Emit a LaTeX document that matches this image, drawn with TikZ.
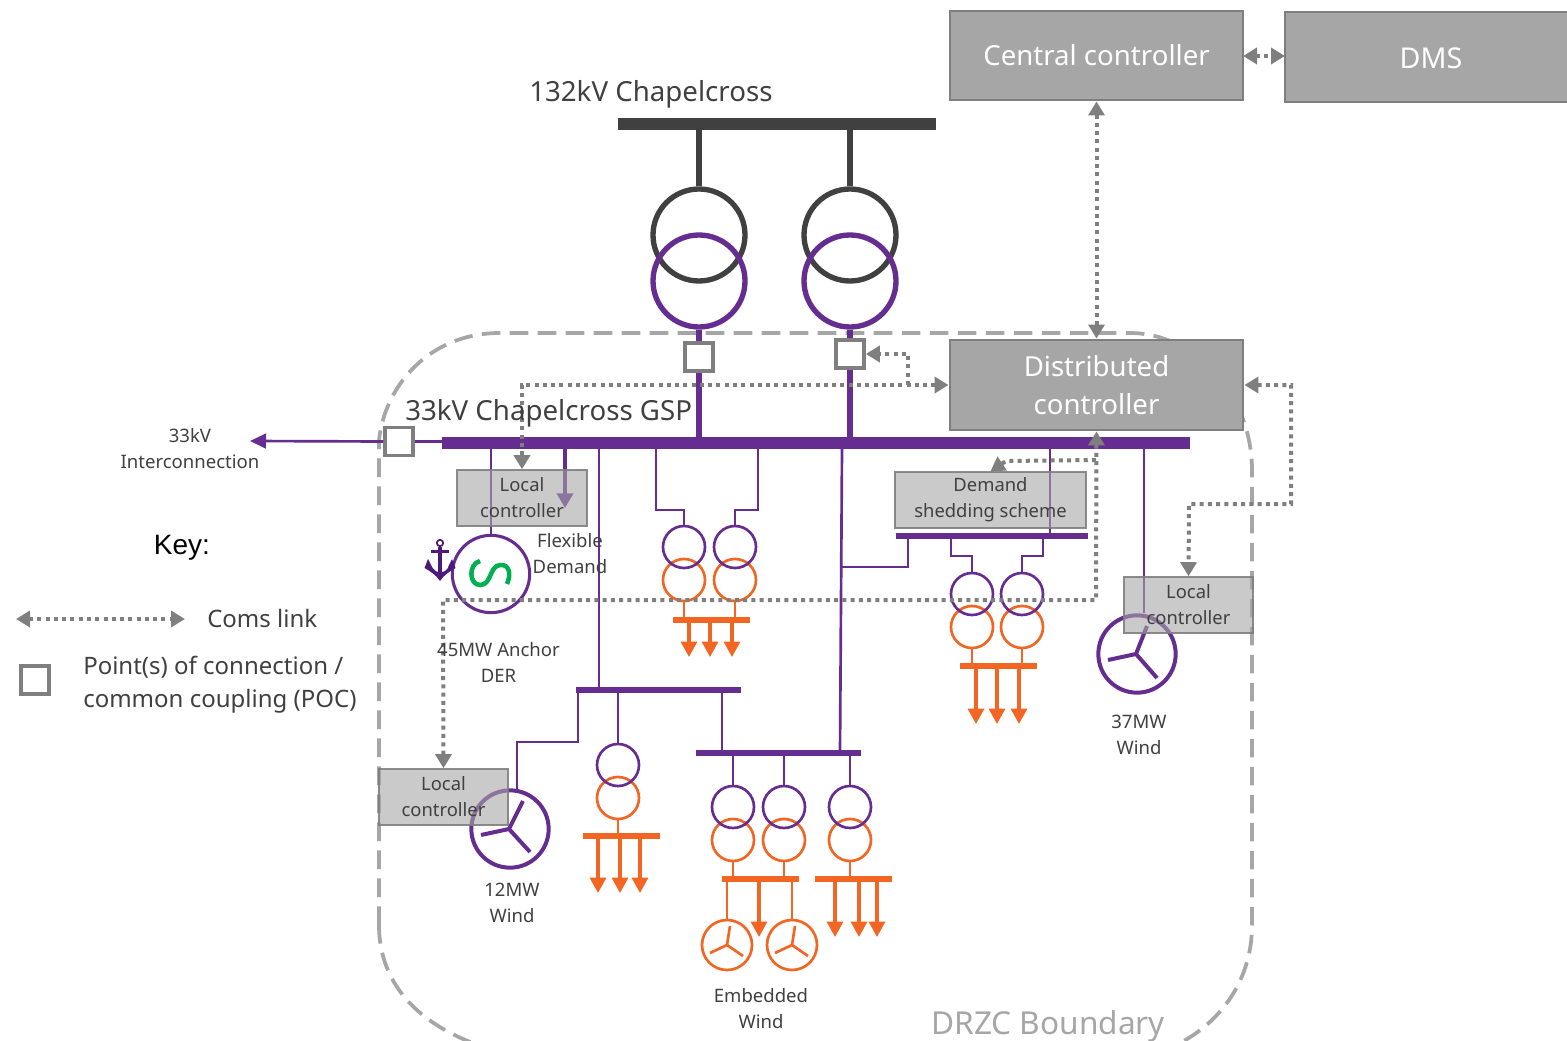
\documentclass[tikz,border=0pt]{standalone}
\usepackage{fontspec}
\setmainfont{Noto Sans}
\newfontfamily\keyfont{Liberation Sans}
\usetikzlibrary{arrows.meta}
\definecolor{pur}{HTML}{662D91}
\definecolor{org}{HTML}{F26522}
\definecolor{drk}{HTML}{404040}
\definecolor{gry}{HTML}{7F7F7F}
\definecolor{ctl}{HTML}{A6A6A6}
\definecolor{txt}{HTML}{404040}
\definecolor{grn}{HTML}{00B050}
\definecolor{anc}{HTML}{4B1A7A}
\tikzset{
  x=0.75pt,y=-0.75pt,
  pl/.style={draw=pur,line width=2pt},
  plthick/.style={draw=pur,line width=4pt},
  ol/.style={draw=org,line width=1.3pt},
  plarrow/.style={draw=pur,line width=3pt,-{Triangle[length=11pt,width=12pt]}},
  oarrow/.style={draw=org,line width=2.3pt,-{Triangle[length=11.5pt,width=12pt]}},
  com/.style={draw=gry,line width=3pt,dash pattern=on 3pt off 3.2pt},
  comarrow/.style={com,-{Triangle[length=10.5pt,width=12pt]}},
  comboth/.style={com,{Triangle[length=10.5pt,width=12pt]}-{Triangle[length=10.5pt,width=12pt]}},
  xc/.style={circle,draw,inner sep=0pt,minimum size=31.5pt,line width=2pt},
  bigx/.style={circle,draw,inner sep=0pt,minimum size=69pt,line width=4pt},
  windp/.style={circle,draw=pur,inner sep=0pt,minimum size=58pt,line width=3pt},
  windo/.style={circle,draw=org,inner sep=0pt,minimum size=37.5pt,line width=2pt},
  blp/.style={draw=pur,line width=3pt},
  blo/.style={draw=org,line width=2pt},
  poc/.style={rectangle,draw=gry,fill=white,line width=2.7pt,inner sep=0pt,minimum size=21pt},
  ctlbox/.style={rectangle,draw=gry,fill=ctl,line width=2.2pt,inner sep=0pt,text=white,font=\fontsize{20.7}{28.5}\selectfont,align=center},
  locbox/.style={rectangle,draw=gry,fill=ctl,fill opacity=.6,draw opacity=.9,text opacity=1,line width=1.2pt,inner sep=0pt,text=txt,font=\fontsize{13.8}{19.5}\selectfont,align=center},
  lab/.style={text=txt,font=\fontsize{13.9}{19.5}\selectfont,align=center,inner sep=0pt},
  biglab/.style={text=txt,font=\fontsize{20.75}{26}\selectfont,anchor=west,inner sep=0pt},
  keylab/.style={text=txt,font=\fontsize{18}{24.5}\selectfont,anchor=west,inner sep=0pt,align=left},
}
\newcommand{\hbus}[6]{\node[rectangle,fill=#2,inner sep=0pt,minimum width={(#4-#3)*0.75pt},minimum height={#6*0.75pt}] (#1) at ({(#3+#4)/2},#5) {};}
\newcommand{\boxnode}[7]{\node[#2,minimum width={(#5-#3)*0.75pt},minimum height={(#6-#4)*0.75pt}] (#1) at ({(#3+#5)/2},{(#4+#6)/2}) {#7};}
\newcommand{\xfmr}[3]{%
  \node[xc,draw=org] (#1O) at ({#2},{#3+33}) {};
  \node[xc,draw=pur] (#1P) at ({#2},{#3}) {};}
\begin{document}
\begin{tikzpicture}
\useasboundingbox (0,0) rectangle (1567,1041);
\begin{scope}
\clip (0,0) rectangle (1567,1041);
% boundary
\draw[draw=ctl,line width=2.8pt,dash pattern=on 14pt off 7pt]
  (379,925) -- (379,440) .. controls (385,385) and (430,333) .. (500,333) -- (1130,333) .. controls (1195,333) and (1252,395) .. (1252,470)
  -- (1252,925) .. controls (1252,985) and (1215,1030) .. (1165,1050)
  (379,925) .. controls (379,985) and (420,1030) .. (500,1052);
% buses
\hbus{topbus}{drk}{618}{936}{124}{12}
\hbus{mainbus}{pur}{442}{1190}{443}{12}
\hbus{busa}{pur}{576}{741}{690}{6.5}
\hbus{busb}{pur}{696}{861}{753}{6.5}
\hbus{busc}{pur}{896}{1088}{536}{6.5}
\hbus{obusa}{org}{673}{750}{620}{6.5}
\hbus{obusb}{org}{960}{1037}{666}{6.5}
\hbus{obusc}{org}{583}{660}{836}{6.5}
\hbus{obusd}{org}{722}{799}{879}{6.5}
\hbus{obuse}{org}{815}{892}{879}{6.5}
% POC squares
\node[poc] (poca) at (699,357) {};
\node[poc] (pocb) at (850,354) {};
\node[poc] (pocc) at (399,441.5) {};
% main transformers
\node[bigx,draw=drk] (ta) at (699,235) {};
\node[bigx,draw=drk] (tb) at (850,235) {};
\node[bigx,draw=pur] (tc) at (699,281) {};
\node[bigx,draw=pur] (td) at (850,281) {};
\draw[draw=drk,line width=4pt] (topbus.center -| ta.north) -- (ta.north);
\draw[draw=drk,line width=4pt] (topbus.center -| tb.north) -- (tb.north);
\draw[plthick] (tc.south) -- (poca.north);
\draw[plthick] (td.south) -- (pocb.north);
\draw[plthick] (poca.south) -- (mainbus.center -| poca.south);
\draw[plthick] (pocb.south) -- (mainbus.center -| pocb.south);
% interconnection
\coordinate (ic) at (250,441);
\draw[pl,-{Triangle[length=12pt,width=11pt]}] (pocc.west) -- (ic);
\draw[pl] (pocc.east) -- (mainbus.west |- pocc.east);
% generator
\node[circle,draw=pur,inner sep=0pt,minimum size=58pt,line width=2.3pt] (gen) at (491,574) {};
\draw[pl] (mainbus.center -| gen.north) -- (gen.north);
\draw[draw=grn,line width=3.4pt]
  (480,561) .. controls (468,564) and (469,585) .. (480,585) .. controls (492,585) and (489,566) .. (500,565) .. controls (510,564) and (511,575) .. (507,584);
% anchor icon
\draw[draw=anc,line width=1.3pt] (440,543) circle[radius=3.2];
\draw[draw=anc,line width=3.2pt] (440,547) -- (440,576);
\draw[draw=anc,line width=2pt] (431,551.5) -- (449,551.5);
\fill[anc] (424.5,568) -- (428,559) -- (431,565) .. controls (433,570) and (437,572) .. (438,572) -- (442,572) .. controls (444,572) and (448,570) .. (449,565) -- (452,559) -- (455.5,568) .. controls (450,571) and (444,575) .. (440,581) .. controls (436,575) and (430,571) .. (424.5,568) -- cycle;
% flexible demand
\coordinate (fd) at (565,508);
\draw[plarrow] (mainbus.center -| fd) -- (fd);
% feeders
\coordinate (ja) at (599,449);
\draw[pl] (ja) -- (busa.center -| ja);
\coordinate (jb) at (842,449);
\coordinate (jc) at (840,753);
\draw[pl] (jb) -- (jc);
\coordinate (jd) at (842,567);
\coordinate (je) at (908,567);
\draw[pl] (jd) -- (je) -- (busc.center -| je);
\coordinate (jf) at (1050,449);
\draw[pl] (jf) -- (busc.center -| jf);
% transformer pair A
\xfmr{xa}{684}{547}
\xfmr{xb}{735}{547}
\coordinate (ka) at (656,449); \coordinate (kb) at (656,510); \coordinate (kc) at (758,449); \coordinate (kd) at (758,510);
\draw[pl] (ka) -- (kb) -- (kb -| xaP.north) -- (xaP.north);
\draw[pl] (kc) -- (kd) -- (kd -| xbP.north) -- (xbP.north);
\draw[ol] (xaO.south) -- (obusa.center -| xaO.south);
\draw[ol] (xbO.south) -- (obusa.center -| xbO.south);
\foreach \n/\x in {a/689,b/710,c/732}{\coordinate (aa\n) at (\x,657); \draw[oarrow] (obusa.center -| aa\n) -- (aa\n);}
% transformer pair B
\xfmr{xc}{972}{594}
\xfmr{xd}{1022}{594}
\coordinate (la) at (951,536); \coordinate (lb) at (951,556); \coordinate (lc) at (1043,536); \coordinate (ld) at (1043,556);
\draw[pl] (la) -- (lb) -- (lb -| xcP.north) -- (xcP.north);
\draw[pl] (lc) -- (ld) -- (ld -| xdP.north) -- (xdP.north);
\draw[ol] (xcO.south) -- (obusb.center -| xcO.south);
\draw[ol] (xdO.south) -- (obusb.center -| xdO.south);
\foreach \n/\x in {a/976,b/997,c/1019}{\coordinate (ab\n) at (\x,724); \draw[oarrow] (obusb.center -| ab\n) -- (ab\n);}
% bus a children
\xfmr{xe}{618}{765}
\draw[pl] (busa.center -| xeP.north) -- (xeP.north);
\draw[ol] (xeO.south) -- (obusc.center -| xeO.south);
\foreach \n/\x in {a/598,b/620,c/640}{\coordinate (ac\n) at (\x,893); \draw[oarrow] (obusc.center -| ac\n) -- (ac\n);}
\coordinate (jg) at (722,690);
\draw[pl] (jg) -- (busb.center -| jg);
% wind 12MW
\node[windp] (wa) at (510,829) {};
\coordinate (ma) at (578,690); \coordinate (mb) at (578,742); \coordinate (mc) at (517,742); \coordinate (md) at (517,790);
\draw[pl] (ma) -- (mb) -- (mc) -- (md);
\coordinate (wac) at (509,829);
\draw[blp] (523,801) -- (wac) (481,835) -- (wac) (530,852) -- (wac);
% bus b children
\xfmr{xf}{733}{807}
\xfmr{xg}{784}{807}
\xfmr{xh}{850}{807}
\draw[pl] (busb.center -| xfP.north) -- (xfP.north);
\draw[pl] (busb.center -| xgP.north) -- (xgP.north);
\draw[pl] (busb.center -| xhP.north) -- (xhP.north);
\draw[ol] (xfO.south) -- (obusd.center -| xfO.south);
\draw[ol] (xgO.south) -- (obusd.center -| xgO.south);
\draw[ol] (xhO.south) -- (obuse.center -| xhO.south);
\coordinate (ada) at (759,937);
\draw[oarrow] (obusd.center -| ada) -- (ada);
\foreach \n/\x in {a/835,b/859,c/877}{\coordinate (ae\n) at (\x,937); \draw[oarrow] (obuse.center -| ae\n) -- (ae\n);}
% embedded wind
\node[windo] (wb) at (727,945) {};
\node[windo] (wc) at (792,945) {};
\draw[ol] (obusd.center -| wb.north) -- (wb.north);
\draw[ol] (obusd.center -| wc.north) -- (wc.north);
\coordinate (wbc) at (727,945);
\coordinate (wcc) at (792,945);
\draw[blo] (730,926) -- (wbc) (710,953) -- (wbc) (743,956) -- (wbc);
\draw[blo] (795,926) -- (wcc) (775,953) -- (wcc) (808,956) -- (wcc);
% wind 37MW
\node[windp] (wd) at (1137,654) {};
\coordinate (na) at (1144,449);
\draw[pl] (na) -- (na |- wd.north);
\coordinate (wdc) at (1136,654);
\draw[blp] (1147,626) -- (wdc) (1108,660) -- (wdc) (1157,678) -- (wdc);
% controller boxes
\boxnode{central}{ctlbox}{950}{11}{1243}{100}{Central controller}
\boxnode{dms}{ctlbox}{1285}{12}{1572}{102}{}
\node[inner sep=0pt,text=white,font=\fontsize{21.5}{28.5}\selectfont] (dmslab) at (1431,58) {DMS};
\boxnode{dist}{ctlbox}{950}{340}{1243}{430}{Distributed\\controller}
\boxnode{lca}{locbox}{457}{470}{587}{526}{Local\\controller}
\boxnode{dss}{locbox}{895}{472}{1086}{528}{Demand\\shedding scheme}
\boxnode{lcc}{locbox}{1124}{577}{1253}{633}{Local\\controller}
\boxnode{lcb}{locbox}{379}{769}{508}{825}{Local\\controller}
% comms links
\coordinate (ca) at (1243,56); \coordinate (cb) at (1285,56);
\draw[comboth] (ca) -- (cb);
\draw[comboth] (central.south) -- (dist.north);
\draw[comboth] (dist.west) -- (dist.west -| lca.north) -- (lca.north);
\coordinate (da) at (908,385); \coordinate (db) at (908,354);
\draw[comarrow] (da) -- (db) -- (pocb.east);
\coordinate (ea) at (1291,385); \coordinate (eb) at (1291,504); \coordinate (ec) at (1189,504);
\draw[comboth] (dist.east) -- (ea) -- (eb) -- (ec) -- (lcc.north);
\coordinate (fa) at (1096,600); \coordinate (fb) at (443,600);
\draw[comboth] (dist.south) -- (fa) -- (fb) -- (lcb.north);
\coordinate (ga) at (1096,460); \coordinate (gb) at (1006,461);
\draw[comarrow] (ga) -- (gb) -- (dss.north);
% labels
\node[biglab] (lbla) at (529,94) {132kV Chapelcross};
\node[biglab] (lblb) at (405,413) {33kV Chapelcross GSP};
\node[lab] (lblc) at (190,449) {33kV\\Interconnection};
\node[lab] (lbld) at (570,553.5) {Flexible\\Demand};
\node[lab] (lble) at (498.5,662) {45MW Anchor\\DER};
\node[lab] (lblf) at (512,903) {12MW\\Wind};
\node[lab] (lblg) at (1139,734.5) {37MW\\Wind};
\node[lab] (lblh) at (761,1009) {Embedded\\Wind};
\node[biglab,text=ctl,font=\fontsize{23.7}{28}\selectfont] (lbli) at (931,1026) {DRZC Boundary};
% key
\node[text=black,inner sep=0pt,font=\keyfont\fontsize{21}{24}\selectfont] (keyt) at (182,548) {Key:};
\coordinate (ka1) at (16,619); \coordinate (ka2) at (185,619);
\draw[comboth] (ka1) -- (ka2);
\node[keylab] (keyc) at (207,618) {Coms link};
\node[poc,minimum size=21pt] (keyp) at (35,680) {};
\node[keylab] (keyd) at (83,685) {Point(s) of connection /\\common coupling (POC)};
\end{scope}
\end{tikzpicture}
\end{document}
